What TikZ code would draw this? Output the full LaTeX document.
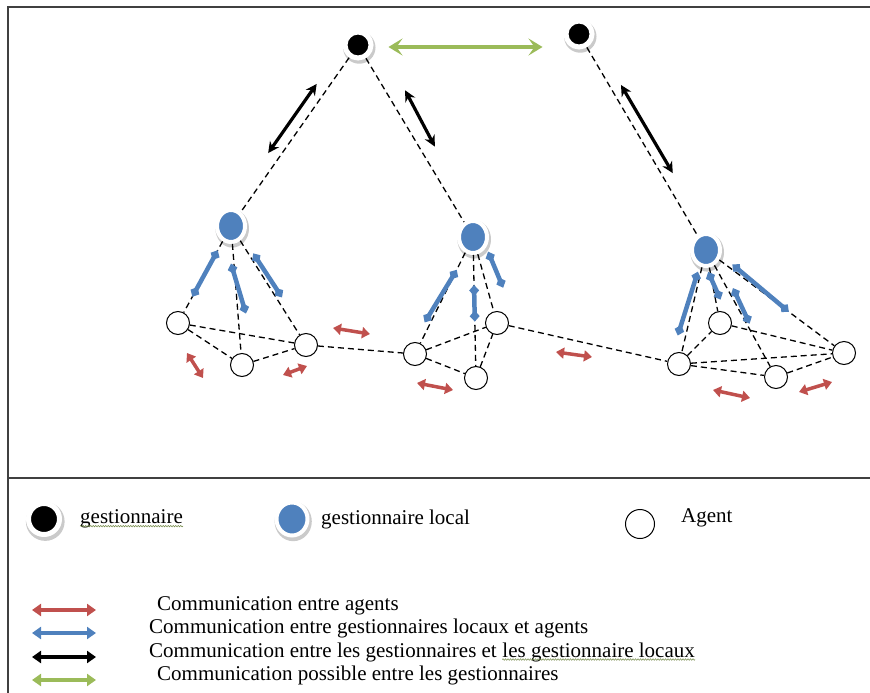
\documentclass[tikz,border=0pt]{standalone}
\usepackage{fontspec}
\setmainfont{Liberation Serif}
\usetikzlibrary{
  arrows.meta,
  positioning,
  shapes.geometric,
  calc,
  shadows,
  decorations.pathmorphing
}
\definecolor{gestred}{RGB}{192,80,77}
\definecolor{gestblue}{RGB}{79,129,189}
\definecolor{gestgreen}{RGB}{155,187,89}
\definecolor{framegray}{RGB}{64,64,64}

\tikzset{
  gest/.style={circle, fill=black, draw=white, line width=5pt, minimum size=26pt, inner sep=0pt,
    drop shadow={shadow xshift=1pt, shadow yshift=-2pt, shadow scale=1.25, fill=gray!70, opacity=0.6}},
  local/.style={ellipse, fill=gestblue, draw=white, line width=4pt, minimum width=28pt,
    minimum height=32pt, inner sep=0pt,
    drop shadow={shadow xshift=1pt, shadow yshift=-2pt, shadow scale=1.2, fill=gray!70, opacity=0.6}},
  agent/.style={circle, draw=black, fill=white, line width=1pt, minimum size=23pt, inner sep=0pt},
  link/.style={draw=black, line width=1.3pt, dash pattern=on 6pt off 4pt},
  frame/.style={draw=framegray, line width=1.4pt},
  agent arrow/.style={draw=gestred, line width=3.5pt, {Triangle[length=8pt,width=11pt]}-{Triangle[length=8pt,width=11pt]}},
  local arrow/.style={draw=gestblue, line width=4.5pt, {Diamond[length=11pt,width=10pt]}-{Diamond[length=11pt,width=10pt]}},
  link arrow/.style={draw=black, line width=3.2pt, {Stealth[length=11pt,width=11pt]}-{Stealth[length=11pt,width=11pt]}},
  gest arrow/.style={draw=gestgreen, line width=4pt, {Stealth[length=14pt,width=17pt,inset=6pt]}-{Stealth[length=14pt,width=17pt,inset=6pt]}},
  legend arrow/.style={line width=4pt, {Triangle[length=9pt,width=12pt]}-{Triangle[length=9pt,width=12pt]}},
  legend text/.style={font=\fontsize{21}{25}\selectfont, inner sep=0pt},
  spell/.style={draw=gestgreen!70!black, line width=0.5pt, decorate,
    decoration={snake, amplitude=0.7pt, segment length=2.5pt}}
}

\begin{document}
\begin{tikzpicture}[x=1pt, y=-1pt]
  \useasboundingbox (0,0) rectangle (870,693);
  \draw[frame] (870,7) -- (8,7) -- (8,693);
  \draw[frame] (8,478) -- (870,478);

  \node[gest] (g1) at (358,45) {};
  \node[gest] (g2) at (579,34) {};
  \node[local] (l1) at (231,226) {};
  \node[local] (l2) at (473,237) {};
  \node[local] (l3) at (706,250) {};
  \foreach \name/\pos in {a1/{178,323}, a2/{242,365}, a3/{306,345},
                          b1/{415,354}, b2/{476,378}, b3/{497,323},
                          c1/{679,364}, c2/{720,323}, c3/{776,377}, c4/{844,353}}
    \node[agent] (\name) at (\pos) {};

  \foreach \p/\q in {g1/l1, g1/l2, g2/l3,
                     l1/a1, l1/a2, l1/a3, a1/a3, a1/a2, a2/a3, a3/b1,
                     l2/b1, l2/b2, l2/b3, b1/b3, b1/b2, b2/b3, b3/c1,
                     l3/c1, l3/c2, l3/c3, l3/c4, c1/c2, c1/c4, c1/c3, c2/c4, c3/c4}
    \draw[link] (\p) -- (\q);

  \draw[gest arrow] ($(g1.east)+(15,2)$) -- ($(g1.east -| g2.west)+(-21,2)$);
  \draw[link arrow] ($(g1)!0.215!(l1)+(-14,0)$) -- ($(g1)!0.597!(l1)+(-14,0)$);
  \draw[link arrow] ($(g1)!0.236!(l2)+(20,0)$) -- ($(g1)!0.529!(l2)+(16,0)$);
  \draw[link arrow] ($(g2)!0.236!(l3)+(12,0)$) -- ($(g2)!0.644!(l3)+(12,0)$);

  \foreach \p/\q/\s/\e/\ds/\de in {l1/a1/0.25/0.73/0/0, l1/a2/0.27/0.63/-3/8, l1/a3/0.23/0.6/5/6,
                                   l2/b1/0.28/0.73/0/-6, l2/b2/0.34/0.6/0/0, l2/b3/0.17/0.59/11/16,
                                   l3/c1/0.19/0.75/-3/-8, l3/c2/0.3/0.68/-2/5, l3/c3/0.3/0.58/6/3,
                                   l3/c4/0.14/0.6/7/0}
    \draw[local arrow] ($(\p)!\s!(\q)+(\ds,0)$) -- ($(\p)!\e!(\q)+(\de,0)$);

  \foreach \n/\s/\e in {a1/{9,30}/{25,55}, a2/{41,10}/{65,1}, a3/{27,-17}/{64,-11},
                        b1/{2,29}/{38,36}, b3/{59,29}/{95,34},
                        c1/{34,26}/{71,34}, c4/{-45,39}/{-12,29}}
    \draw[agent arrow] ($(\n)+(\s)$) -- ($(\n)+(\e)$);

  \node[gest, minimum size=31pt] (lg1) at (44,519) {};
  \node[legend text, anchor=west] (lt1) at (80,519) {gestionnaire};
  \node[local, minimum width=31pt, minimum height=33pt] (lg2) at (292,519) {};
  \node[legend text, anchor=west] (lt2) at (321,519) {gestionnaire local};
  \node[agent, minimum size=29pt] (lg3) at (640,524) {};
  \node[legend text, anchor=west] (lt3) at (681,518) {Agent};
  \draw[spell] ([yshift=-2.5pt]lt1.base west) -- ([yshift=-2.5pt]lt1.base east);

  \coordinate (kl) at (32,0);
  \coordinate (kr) at (96,0);
  \foreach \i/\x/\y/\col/\txt in {1/157/610/gestred/{Communication entre agents},
                                  2/149/633/gestblue/{Communication entre gestionnaires locaux et agents},
                                  3/149/657/black/{Communication entre les gestionnaires et},
                                  4/157/680/gestgreen/{Communication possible entre les gestionnaires}}
  {
    \node[legend text, anchor=base west] (t\i) at (\x,\y) {\txt};
    \draw[legend arrow, \col] (kl |- t\i.base) -- (kr |- t\i.base);
  }
  \node[legend text, anchor=base west] (t3b) at ($(t3.base east)+(5.25,0)$) {les gestionnaire locaux};
  \draw[spell] ([yshift=-2.5pt]t3b.base west) -- ([yshift=-2.5pt]t3b.base east);
\end{tikzpicture}
\end{document}
